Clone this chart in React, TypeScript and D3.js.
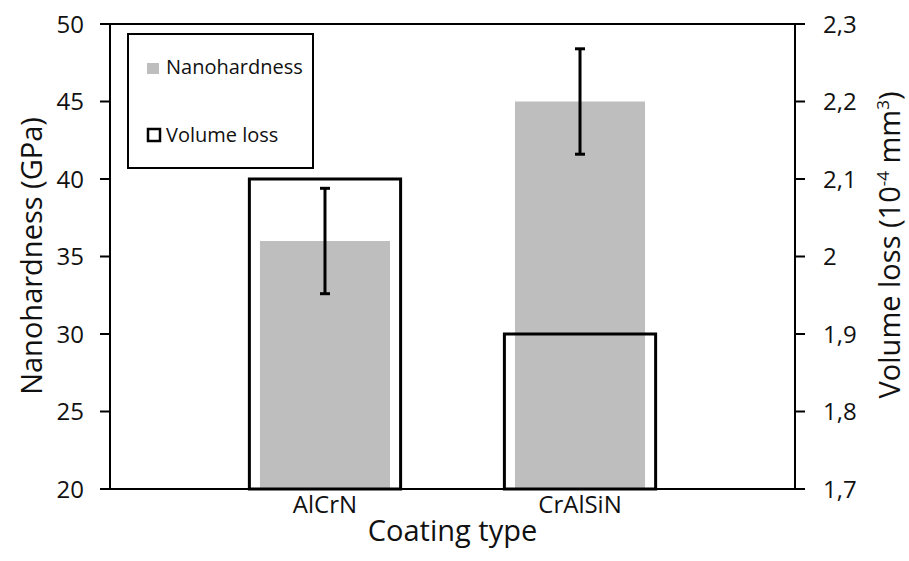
import React from "react";
import * as d3 from "d3";

const categories = ["AlCrN", "CrAlSiN"];
const nanohardness = [36, 45];
const nanohardnessErr = [3.4, 3.4];
const volumeLoss = [2.1, 1.9];
const leftTicks = [20, 25, 30, 35, 40, 45, 50];
const rightTicks = [1.7, 1.8, 1.9, 2.0, 2.1, 2.2, 2.3];

const W = 909;
const H = 561;
const plot = { left: 110, right: 795, top: 24, bottom: 489 };
const FONT = "'Open Sans', 'Noto Sans', sans-serif";

const commaFmt = d3.formatLocale({
  decimal: ",",
  thousands: ".",
  grouping: [3],
  currency: ["", ""],
}).format("~g");

export default function App() {
  const x = d3
    .scalePoint<string>()
    .domain(categories)
    .range([plot.left, plot.right])
    .padding(0.843);
  const step = x.step();
  const yL = d3.scaleLinear().domain([20, 50]).range([plot.bottom, plot.top]);
  const yR = d3.scaleLinear().domain([1.7, 2.3]).range([plot.bottom, plot.top]);

  const grayW = step * 0.51;
  const outW = step * 0.593;

  return (
    <svg width={W} height={H} style={{ position: "absolute", left: 0, top: 0 }}>
      <rect x={0} y={0} width={W} height={H} fill="#fff" />

      {/* Nanohardness bars */}
      {categories.map((c, i) => (
        <rect
          key={"g" + c}
          x={(x(c) as number) - grayW / 2}
          y={yL(nanohardness[i])}
          width={grayW}
          height={plot.bottom - yL(nanohardness[i])}
          fill="#bebebe"
        />
      ))}

      {/* Volume loss outlined bars */}
      {categories.map((c, i) => (
        <rect
          key={"v" + c}
          x={(x(c) as number) - outW / 2}
          y={yR(volumeLoss[i])}
          width={outW}
          height={plot.bottom - yR(volumeLoss[i])}
          fill="none"
          stroke="#000"
          strokeWidth={3}
        />
      ))}

      {/* Error bars */}
      {categories.map((c, i) => {
        const cx = x(c) as number;
        const top = yL(nanohardness[i] + nanohardnessErr[i]);
        const bot = yL(nanohardness[i] - nanohardnessErr[i]);
        return (
          <g key={"e" + c} stroke="#000" strokeWidth={3}>
            <line x1={cx} x2={cx} y1={top} y2={bot} />
            <line x1={cx - 5} x2={cx + 5} y1={top} y2={top} />
            <line x1={cx - 5} x2={cx + 5} y1={bot} y2={bot} />
          </g>
        );
      })}

      {/* Axes */}
      <g stroke="#000" strokeWidth={2}>
        <line x1={plot.left} x2={plot.left} y1={plot.top} y2={plot.bottom} />
        <line x1={plot.right} x2={plot.right} y1={plot.top} y2={plot.bottom} />
        <line x1={plot.left} x2={plot.right} y1={plot.bottom} y2={plot.bottom} />
        <line x1={plot.left - 10} x2={plot.right} y1={plot.top} y2={plot.top} />
        {leftTicks.map((t) => (
          <line key={"lt" + t} x1={plot.left - 10} x2={plot.left} y1={yL(t)} y2={yL(t)} />
        ))}
        {rightTicks.map((t) => (
          <line key={"rt" + t} x1={plot.right} x2={plot.right + 10} y1={yR(t)} y2={yR(t)} />
        ))}
      </g>

      <g fontFamily={FONT} fontSize={24} fill="#111">
        {leftTicks.map((t) => (
          <text key={"ll" + t} x={plot.left - 26} y={yL(t)} dy="0.36em" textAnchor="end">
            {t}
          </text>
        ))}
        {rightTicks.map((t) => (
          <text key={"rl" + t} x={plot.right + 28} y={yR(t)} dy="0.36em" textAnchor="start">
            {commaFmt(t)}
          </text>
        ))}
        {categories.map((c) => (
          <text key={"cl" + c} x={x(c) as number} y={513} textAnchor="middle">
            {c}
          </text>
        ))}
      </g>

      {/* Axis titles */}
      <g fontFamily={FONT} fontSize={29} fill="#111">
        <text x={(plot.left + plot.right) / 2} y={541} textAnchor="middle">
          Coating type
        </text>
        <text transform="translate(42,256) rotate(-90)" textAnchor="middle">
          Nanohardness (GPa)
        </text>
        <text transform="translate(900,245) rotate(-90)" textAnchor="middle">
          Volume loss (10
          <tspan fontSize={17} dy={-11}>-4</tspan>
          <tspan dy={11}> mm</tspan>
          <tspan fontSize={17} dy={-11}>3</tspan>
          <tspan dy={11}>)</tspan>
        </text>
      </g>

      {/* Legend */}
      <rect x={128} y={34} width={185} height={134} fill="#fff" stroke="#000" strokeWidth={2} />
      <rect x={147} y={63} width={12} height={11} fill="#bebebe" />
      <rect x={148} y={129} width={12} height={12} fill="none" stroke="#000" strokeWidth={2.5} />
      <g fontFamily={FONT} fontSize={20} fill="#111">
        <text x={166} y={74}>Nanohardness</text>
        <text x={166} y={142}>Volume loss</text>
      </g>
    </svg>
  );
}
